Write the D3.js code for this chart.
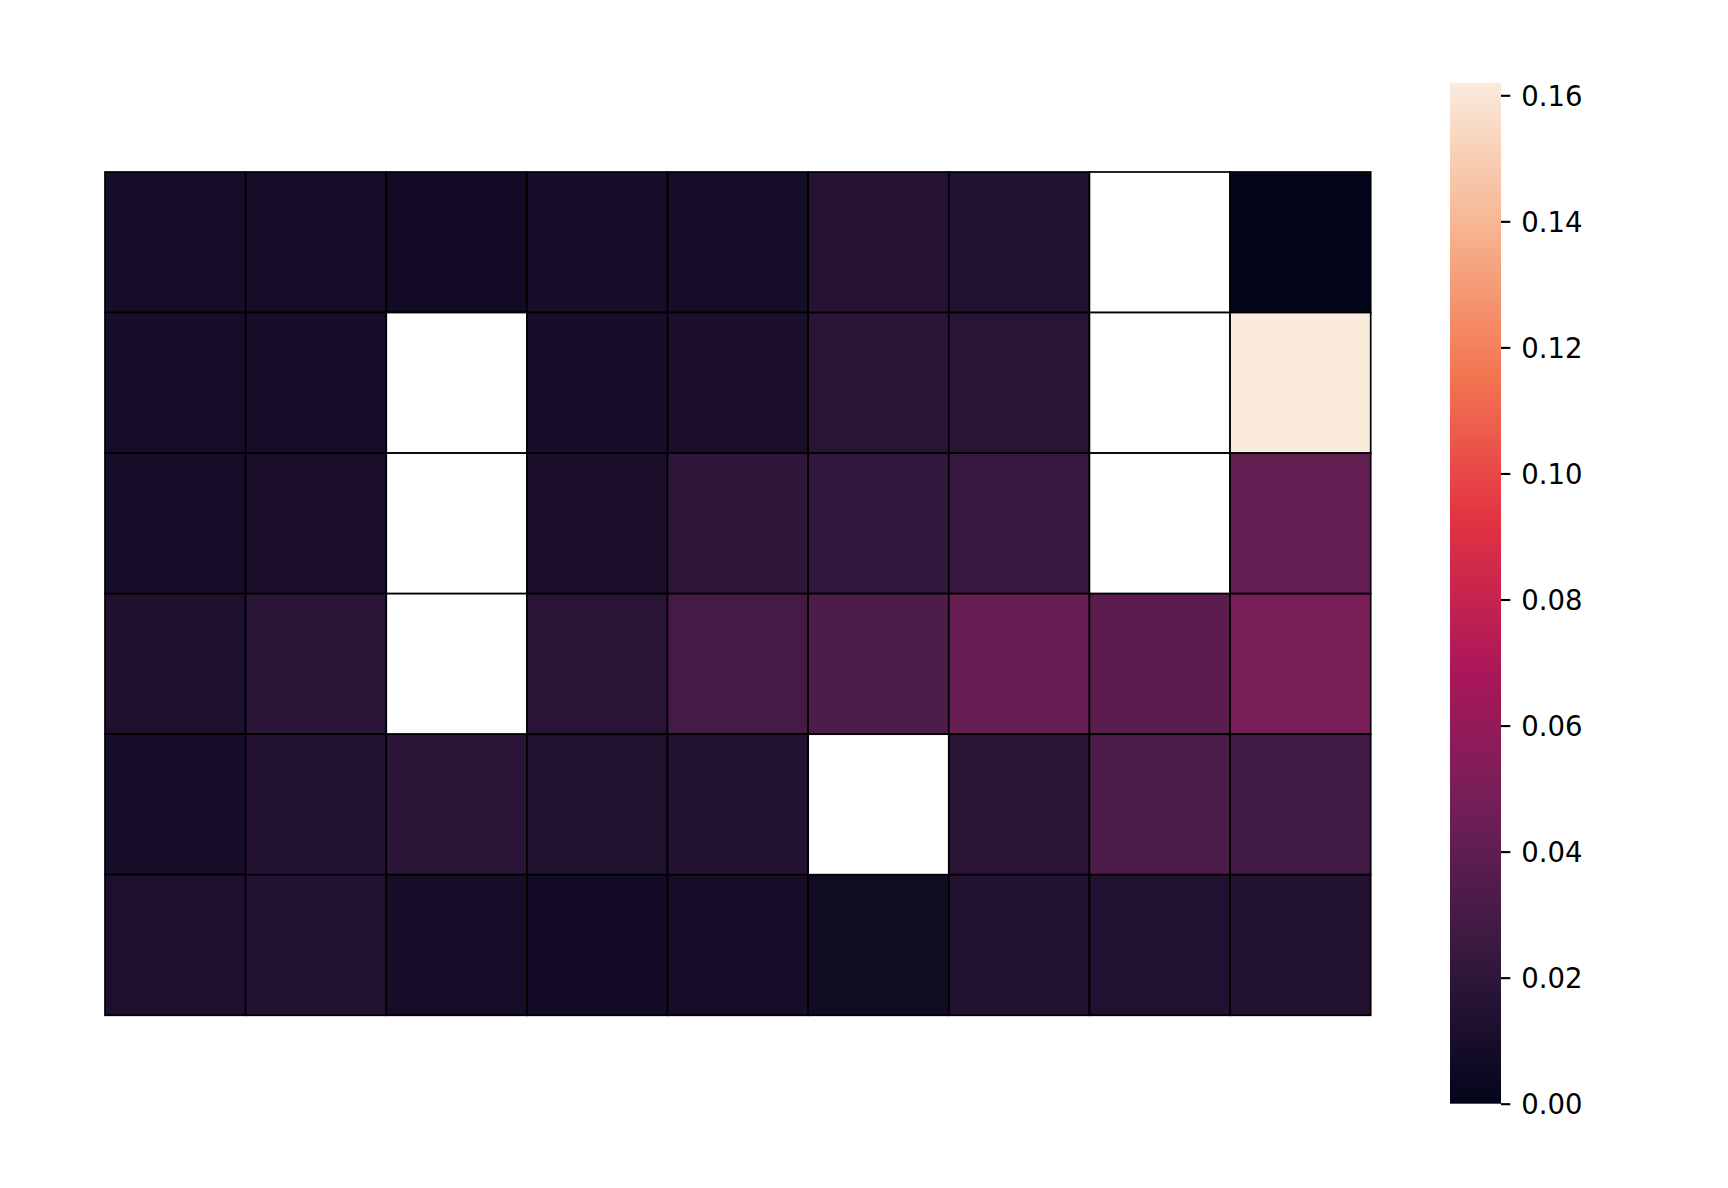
<!DOCTYPE html>
<html>
<head>
<meta charset="utf-8">
<script src="https://cdn.jsdelivr.net/npm/d3@7"></script>
<style>
  html, body { margin: 0; padding: 0; background: #fff; }
  svg { display: block; }
</style>
</head>
<body>
<svg id="chart" width="1728" height="1188"></svg>
<script>
// ---- data ----
const rows = [0, 1, 2, 3, 4, 5];
const cols = [0, 1, 2, 3, 4, 5, 6, 7, 8];
const row0 = [0.0097, 0.0083, 0.0074, 0.0100, 0.0088, 0.0162, 0.0144, null, 0.0];
const row1 = [0.0095, 0.0100, null, 0.0100, 0.0110, 0.0180, 0.0170, null, 0.1620];
const row2 = [0.0097, 0.0108, null, 0.0112, 0.0204, 0.0222, 0.0240, null, 0.0413];
const row3 = [0.0130, 0.0180, null, 0.0175, 0.0290, 0.0330, 0.0425, 0.0377, 0.0500];
const row4 = [0.0097, 0.0150, 0.0180, 0.0135, 0.0155, null, 0.0175, 0.0320, 0.0275];
const row5 = [0.0125, 0.0155, 0.0095, 0.0080, 0.0098, 0.0065, 0.0145, 0.0140, 0.0148];
const values = [row0, row1, row2, row3, row4, row5];
const vmin = 0.0, vmax = 0.162;
const cbarTicks = [0.00, 0.02, 0.04, 0.06, 0.08, 0.10, 0.12, 0.14, 0.16];
// seaborn "rocket" colormap anchors
const rocketStops = ["#03051a", "#35193e", "#701f57", "#ad1759", "#e13342", "#f37651", "#f6b48f", "#faebdd"];

// ---- layout ----
const svg = d3.select("#chart");
const hm = { x0: 105, x1: 1370.7, y0: 172, y1: 1015.3 };
const cb = { x0: 1450, x1: 1501, y0: 82.7, y1: 1103.7 };

const rocket = d3.scaleLinear()
  .domain(rocketStops.map((_, i) => i / (rocketStops.length - 1)))
  .range(rocketStops)
  .interpolate(d3.interpolateRgb)
  .clamp(true);
const color = v => rocket((v - vmin) / (vmax - vmin));

const x = d3.scaleBand().domain(cols).range([hm.x0, hm.x1]).padding(0);
const y = d3.scaleBand().domain(rows).range([hm.y0, hm.y1]).padding(0);

const cells = [];
rows.forEach(r => cols.forEach(c => cells.push({ r, c, v: values[r][c] })));

svg.append("g").selectAll("rect").data(cells).join("rect")
  .attr("x", d => x(d.c))
  .attr("y", d => y(d.r))
  .attr("width", x.bandwidth())
  .attr("height", y.bandwidth())
  .attr("fill", d => d.v === null ? "#ffffff" : color(d.v))
  .attr("stroke", "#000")
  .attr("stroke-width", 1.7);

// ---- colorbar ----
const defs = svg.append("defs");
const grad = defs.append("linearGradient").attr("id", "cbgrad")
  .attr("x1", "0").attr("y1", "1").attr("x2", "0").attr("y2", "0");
d3.range(0, 1.0001, 1 / 64).forEach(t => {
  grad.append("stop").attr("offset", t).attr("stop-color", rocket(t));
});
svg.append("rect")
  .attr("x", cb.x0).attr("y", cb.y0)
  .attr("width", cb.x1 - cb.x0).attr("height", cb.y1 - cb.y0)
  .attr("fill", "url(#cbgrad)");

const cy = d3.scaleLinear().domain([vmin, vmax]).range([cb.y1, cb.y0]);
const axis = d3.axisRight(cy).tickValues(cbarTicks).tickFormat(d3.format(".2f"))
  .tickSize(9.3).tickPadding(11);
const ag = svg.append("g").attr("transform", `translate(${cb.x1},0)`).call(axis);
ag.select(".domain").remove();
ag.selectAll(".tick line").attr("stroke", "#000").attr("stroke-width", 2.1);
ag.selectAll(".tick text")
  .attr("fill", "#000")
  .attr("dy", "0.37em")
  .style("font-family", "'DejaVu Sans', sans-serif")
  .style("font-size", "27.5px");
</script>
</body>
</html>
